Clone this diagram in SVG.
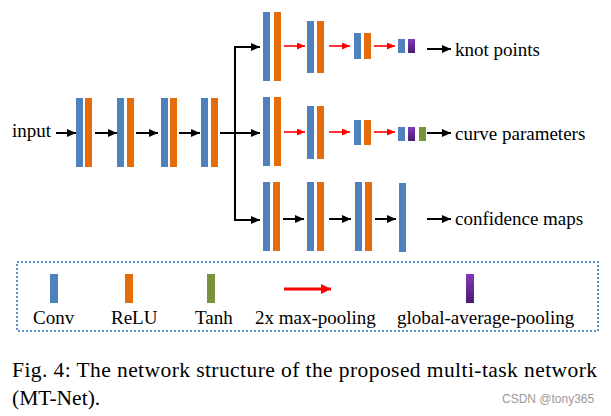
<svg xmlns="http://www.w3.org/2000/svg" width="611" height="416" viewBox="0 0 611 416">
<defs>
<marker id="ah" markerUnits="userSpaceOnUse" markerWidth="10" markerHeight="10" refX="9" refY="4" orient="auto">
<path d="M0,0 L9,4 L0,8 Z" fill="#000"/>
</marker>
<marker id="ahr" markerUnits="userSpaceOnUse" markerWidth="10" markerHeight="10" refX="8" refY="3.5" orient="auto">
<path d="M0,0 L8,3.5 L0,7 Z" fill="#FF0000"/>
</marker>
<marker id="ahr2" markerUnits="userSpaceOnUse" markerWidth="12" markerHeight="12" refX="10" refY="5" orient="auto">
<path d="M0,0 L10,5 L0,10 Z" fill="#FF0000"/>
</marker>
<linearGradient id="pg" x1="0" y1="0" x2="0" y2="1">
<stop offset="0" stop-color="#7F3AB8"/>
<stop offset="1" stop-color="#4B1A72"/>
</linearGradient>
</defs>
<style>
.c{fill:#4F81BD}
.r{fill:#E46C0A}
.t{fill:#77933C}
.g{fill:url(#pg)}
.a{stroke:#000;stroke-width:2;fill:none;marker-end:url(#ah)}
.l{stroke:#000;stroke-width:2;fill:none}
.ra{stroke:#FF0000;stroke-width:1.6;fill:none;marker-end:url(#ahr)}
.tx{font-family:"Liberation Serif","Times New Roman",serif;font-size:19px;fill:#000}
.cap{font-family:"Liberation Serif","Times New Roman",serif;font-size:21.5px;fill:#000}
</style>
<rect width="611" height="416" fill="#fff"/>

<g id="input"><text class="tx" x="12" y="137">input</text></g>

<g id="main">
<rect class="c" x="76" y="98" width="7" height="69"/><rect class="r" x="85" y="98" width="7" height="69"/>
<rect class="c" x="117" y="98" width="7" height="69"/><rect class="r" x="127" y="98" width="7" height="69"/>
<rect class="c" x="161" y="98" width="7" height="69"/><rect class="r" x="170" y="98" width="7" height="69"/>
<rect class="c" x="201" y="98" width="7" height="69"/><rect class="r" x="211" y="98" width="7" height="69"/>
</g>

<g id="branch1">
<rect class="c" x="263" y="12" width="7" height="69"/><rect class="r" x="274" y="12" width="7" height="69"/>
<rect class="c" x="307" y="21" width="7" height="52"/><rect class="r" x="317" y="21" width="7" height="52"/>
<rect class="c" x="354" y="33" width="7" height="26"/><rect class="r" x="364" y="33" width="7" height="26"/>
<rect class="c" x="398" y="39" width="7" height="14"/><rect class="g" x="408" y="39" width="7" height="14"/>
</g>

<g id="branch2">
<rect class="c" x="263" y="97" width="7" height="69"/><rect class="r" x="274" y="97" width="7" height="69"/>
<rect class="c" x="307" y="106" width="7" height="53"/><rect class="r" x="317" y="106" width="7" height="53"/>
<rect class="c" x="354" y="120" width="7" height="25"/><rect class="r" x="364" y="120" width="7" height="25"/>
<rect class="c" x="398" y="127" width="7" height="14"/><rect class="g" x="408" y="127" width="7" height="14"/><rect class="t" x="419" y="127" width="7" height="14"/>
</g>

<g id="branch3">
<rect class="c" x="263" y="182" width="7" height="69"/><rect class="r" x="273" y="182" width="7" height="69"/>
<rect class="c" x="307" y="182" width="7" height="69"/><rect class="r" x="317" y="182" width="7" height="69"/>
<rect class="c" x="355" y="182" width="7" height="69"/><rect class="r" x="365" y="182" width="7" height="69"/>
<rect class="c" x="399" y="183" width="7" height="69"/>
</g>

<g id="outputs">
<text class="tx" x="455" y="56">knot points</text>
<text class="tx" x="455" y="140">curve parameters</text>
<text class="tx" x="455" y="225">confidence maps</text>
</g>

<g id="connectors">
<line class="a" x1="56" y1="133" x2="76" y2="133"/>
<line class="a" x1="95" y1="133" x2="117" y2="133"/>
<line class="a" x1="136" y1="133" x2="158" y2="133"/>
<line class="a" x1="179" y1="133" x2="200" y2="133"/>
<line class="a" x1="220" y1="133" x2="260" y2="133"/>
<line class="l" x1="235" y1="46" x2="235" y2="221"/>
<line class="a" x1="234" y1="47" x2="260" y2="47"/>
<line class="a" x1="234" y1="220" x2="260" y2="220"/>
<line class="ra" x1="284" y1="46" x2="305" y2="46"/>
<line class="ra" x1="329" y1="46" x2="350" y2="46"/>
<line class="ra" x1="374" y1="46" x2="395" y2="46"/>
<line class="ra" x1="284" y1="132" x2="305" y2="132"/>
<line class="ra" x1="329" y1="132" x2="350" y2="132"/>
<line class="ra" x1="374" y1="132" x2="395" y2="132"/>
<line class="a" x1="283" y1="219" x2="304" y2="219"/>
<line class="a" x1="329" y1="219" x2="351" y2="219"/>
<line class="a" x1="375" y1="219" x2="396" y2="219"/>
<line class="a" x1="427" y1="49" x2="451" y2="49"/>
<line class="a" x1="427" y1="133" x2="451" y2="133"/>
<line class="a" x1="427" y1="219" x2="451" y2="219"/>
</g>

<g id="legend">
<rect x="17" y="262" width="581" height="69" fill="none" stroke="#5B8FD0" stroke-width="2" stroke-dasharray="2 2"/>
<rect class="c" x="50" y="274" width="8" height="29"/>
<rect class="r" x="125" y="274" width="8" height="29"/>
<rect class="t" x="207" y="274" width="8" height="29"/>
<line x1="284" y1="289" x2="331" y2="289" stroke="#FF0000" stroke-width="3" marker-end="url(#ahr2)"/>
<rect class="g" x="466" y="274" width="8" height="29"/>
<text class="tx" x="33" y="324">Conv</text>
<text class="tx" x="111" y="324">ReLU</text>
<text class="tx" x="195" y="324">Tanh</text>
<text class="tx" x="255" y="324">2x max-pooling</text>
<text class="tx" x="397" y="324">global-average-pooling</text>
</g>

<g id="caption">
<text class="cap" x="12" y="377" textLength="585" lengthAdjust="spacing">Fig. 4: The network structure of the proposed multi-task network</text>
<text class="cap" x="12" y="405">(MT-Net).</text>
<text x="502" y="403" font-family="Liberation Sans, Arial, sans-serif" font-size="12" fill="#9a9a9a">CSDN @tony365</text>
</g>
</svg>
